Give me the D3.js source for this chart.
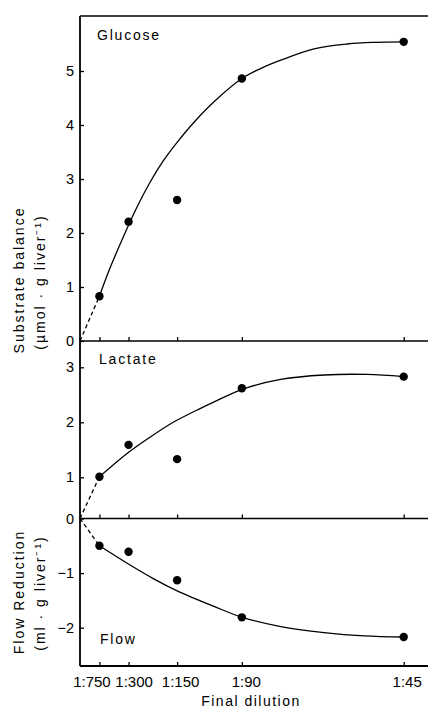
<!DOCTYPE html>
<html>
<head>
<meta charset="utf-8">
<script src="https://cdn.jsdelivr.net/npm/d3@7"></script>
<style>
  html, body { margin: 0; padding: 0; background: #fff; }
  svg { display: block; font-family: "Liberation Sans", Arial, Helvetica, sans-serif; }
  text { fill: #000; }
</style>
</head>
<body>
<svg id="chart" width="428" height="709"></svg>
<script>
// ---- data ----
const dilutions = [750, 300, 150, 90, 45];
const xTickLabels = ["1:750", "1:300", "1:150", "1:90", "1:45"];
const glucose = [0.83, 2.21, 2.61, 4.86, 5.54];
const lactate = [1.01, 1.59, 1.33, 2.62, 2.83];
const flow = [-0.50, -0.61, -1.13, -1.81, -2.17];
// hand-drawn fitted curves (concentration per mille, value)
const glucoseFitConc = [1.333, 2.06, 2.88, 3.84, 4.81, 5.70, 6.64, 7.89, 9.20, 11.11, 12.36, 13.78, 16.07, 18.35, 20.25, 22.22];
const glucoseFitVal  = [0.83, 1.35, 1.87, 2.44, 2.94, 3.33, 3.67, 4.07, 4.43, 4.86, 5.04, 5.20, 5.41, 5.50, 5.53, 5.54];
const lactateFitConc = [1.333, 3.21, 4.81, 6.40, 8.24, 9.20, 11.14, 13.78, 16.75, 19.72, 22.22];
const lactateFitVal  = [1.01, 1.43, 1.73, 2.00, 2.25, 2.37, 2.60, 2.78, 2.86, 2.87, 2.83];
const flowFitConc = [1.333, 3.21, 5.03, 6.64, 9.20, 11.14, 13.78, 16.75, 19.50, 22.22];
const flowFitVal  = [-0.50, -0.815, -1.10, -1.32, -1.61, -1.81, -1.98, -2.09, -2.15, -2.17];
const glucoseTicks = [0, 1, 2, 3, 4, 5];
const lactateTicks = [1, 2, 3];
const flowTicks = [0, -1, -2];

// ---- layout ----
const padL = 80, padR = 428, padT = 16, mid1 = 341, mid2 = 518.5, padB = 666;
const labelNudge = [-8, 5, 3, 4, 3]; // horizontal shifts of x tick labels, as printed
const svg = d3.select("#chart");

const conc = d => 1000 / d;
const x = d3.scaleLinear().domain([0, 23.89]).range([padL, padR]);
const yG = d3.scaleLinear().domain([0, 5]).range([mid1, 71]);
const yL = d3.scaleLinear().domain([0, 1, 3]).range([mid2, 477.3, 367.3]);
const yF = d3.scaleLinear().domain([0, -2]).range([mid2, 627.7]);

// frame lines
const frame = svg.append("g").attr("stroke", "#000").attr("fill", "none");
frame.append("line").attr("x1", padL).attr("x2", padL).attr("y1", padT).attr("y2", padB).attr("stroke-width", 1.8);
[[padT, 1.5], [mid1, 1.6], [mid2, 1.6], [padB, 1.8]].forEach(([yy, w]) => {
  frame.append("line").attr("x1", padL).attr("x2", padR).attr("y1", yy).attr("y2", yy).attr("stroke-width", w);
});

// x axes (ticks pointing up) on each horizontal line
const tickVals = dilutions.map(conc);
[mid1, mid2].forEach(yy => {
  const g = svg.append("g").attr("transform", `translate(0,${yy})`)
    .call(d3.axisBottom(x).tickValues(tickVals).tickSize(-4).tickSizeOuter(0).tickFormat(""));
  g.select(".domain").remove();
  g.selectAll("line").attr("stroke-width", 1.3);
});
const gxb = svg.append("g").attr("transform", `translate(0,${padB})`)
  .call(d3.axisBottom(x).tickValues(tickVals).tickSize(-4).tickSizeOuter(0).tickPadding(10)
    .tickFormat((d, i) => xTickLabels[i]));
gxb.select(".domain").remove();
gxb.selectAll("line").attr("stroke-width", 1.3);
gxb.selectAll("text").attr("font-size", 15).attr("font-family", "Liberation Sans, Arial, sans-serif")
  .attr("dx", (d, i) => labelNudge[i]).attr("fill", "#000");

// y axes
function yAxis(scale, ticks, fmt) {
  const g = svg.append("g").attr("transform", `translate(${padL},0)`)
    .call(d3.axisLeft(scale).tickValues(ticks).tickSize(-4).tickSizeOuter(0).tickPadding(6).tickFormat(fmt));
  g.select(".domain").remove();
  g.selectAll("line").attr("stroke-width", 1.3);
  g.selectAll("text").attr("font-size", 14.5).attr("font-family", "Liberation Sans, Arial, sans-serif").attr("fill", "#000");
  return g;
}
const fmt = d => d < 0 ? "\u2212" + Math.abs(d) : String(d);
yAxis(yG, glucoseTicks, fmt);
yAxis(yL, lactateTicks, fmt);
yAxis(yF, flowTicks, fmt);

// curves
function drawFit(yScale, cs, vs) {
  const pts = cs.map((c, i) => [x(c), yScale(vs[i])]);
  svg.append("path").attr("d", d3.line().curve(d3.curveCatmullRom.alpha(0.5))(pts))
    .attr("fill", "none").attr("stroke", "#000").attr("stroke-width", 1.3);
  svg.append("path").attr("d", d3.line()([[x(0), yScale(0)], pts[0]]))
    .attr("fill", "none").attr("stroke", "#000").attr("stroke-width", 1.3)
    .attr("stroke-dasharray", "4,3");
}
drawFit(yG, glucoseFitConc, glucoseFitVal);
drawFit(yL, lactateFitConc, lactateFitVal);
drawFit(yF, flowFitConc, flowFitVal);

// points
function drawDots(yScale, vals) {
  svg.append("g").selectAll("circle").data(vals).join("circle")
    .attr("cx", (d, i) => x(conc(dilutions[i])))
    .attr("cy", d => yScale(d))
    .attr("r", 4.2).attr("fill", "#000");
}
drawDots(yG, glucose);
drawDots(yL, lactate);
drawDots(yF, flow);

// panel labels
const lab = (t, xx, yy) => svg.append("text").attr("x", xx).attr("y", yy).text(t)
  .attr("font-size", 14).style("letter-spacing", "1.8px");
lab("Glucose", 97, 40);
lab("Lactate", 99, 364);
lab("Flow", 100, 644);

// axis titles
function vtitle(t, xx, yy) {
  svg.append("text").attr("transform", `translate(${xx},${yy}) rotate(-90)`)
    .attr("text-anchor", "middle").attr("font-size", 14).style("letter-spacing", "2px").text(t);
}
vtitle("Substrate balance", 24, 280);
vtitle("(\u00b5mol \u00b7 g liver\u207b\u00b9)", 45, 282);
vtitle("Flow Reduction", 24, 592);
vtitle("(ml \u00b7 g liver\u207b\u00b9)", 45, 593);

svg.append("text").attr("x", 251).attr("y", 706).attr("text-anchor", "middle")
  .attr("font-size", 14).style("letter-spacing", "1.5px").text("Final dilution");
</script>
</body>
</html>
